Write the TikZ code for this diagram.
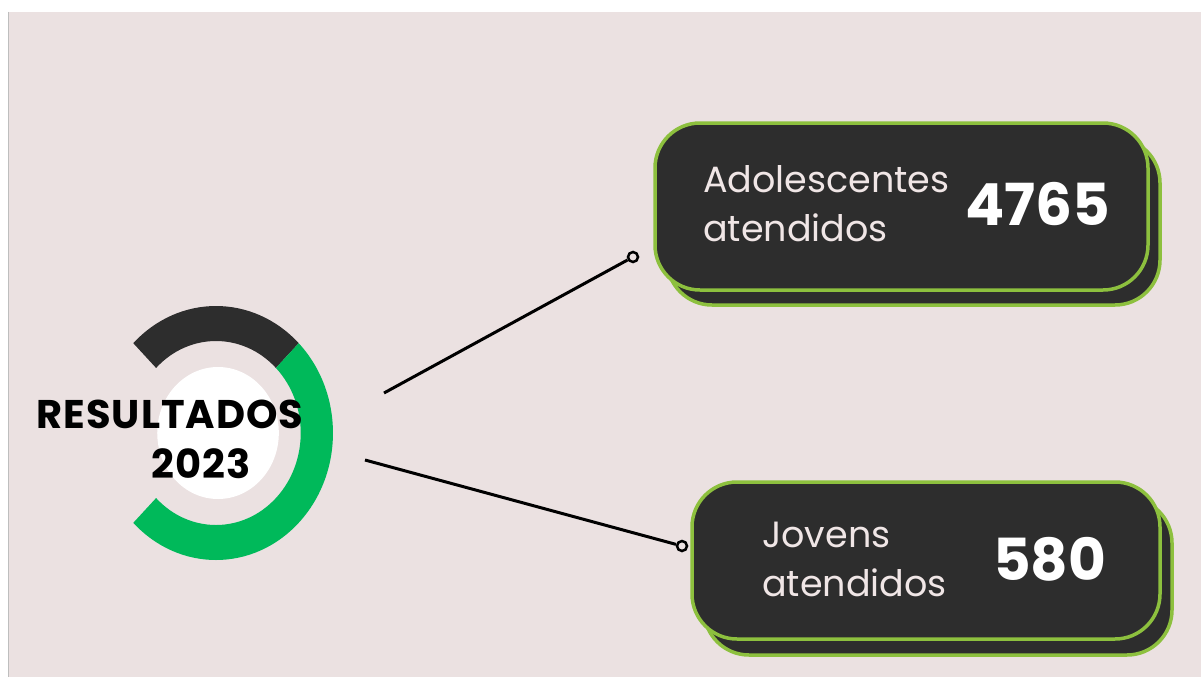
\documentclass[tikz,border=0pt]{standalone}
\usepackage{fontspec}
\setmainfont{Poppins}
\definecolor{bg}{RGB}{235,225,225}
\definecolor{darkfill}{RGB}{45,45,45}
\definecolor{ringgreen}{RGB}{0,185,90}
\definecolor{boxgreen}{RGB}{141,192,62}
\definecolor{lighttext}{RGB}{240,230,230}
\definecolor{edgegray}{RGB}{190,190,190}
\begin{document}
\begin{tikzpicture}[x=1pt,y=-1pt,
  card/.style={draw=boxgreen, fill=darkfill, line width=3.5pt, rounded corners=45pt, inner sep=0pt},
  lbl/.style={anchor=base west, inner sep=0pt, text=lighttext, font=\fontsize{36.5}{44}\selectfont},
  num/.style={anchor=base west, inner sep=0pt, text=white, font=\fontsize{58}{64}\selectfont\bfseries},
  title/.style={anchor=base, inner sep=0pt, text=black, font=\fontsize{40}{48}\selectfont\bfseries\addfontfeatures{LetterSpace=2.5}},
  link/.style={line width=3pt, black},
  dot/.style={circle, draw=black, fill=bg, line width=2.5pt, inner sep=0pt, minimum size=10pt}]
\useasboundingbox (0,0) rectangle (1201,677);
\fill[white] (0,0) rectangle (1201,677);
\fill[bg] (8,12) rectangle (1201,677);
\draw[edgegray, line width=1.2pt] (8.5,12) -- (8.5,677);
% ring (slightly squeezed horizontally, as in the reference)
\begin{scope}[shift={(216,433)}, xscale=0.921]
\fill[darkfill] (-45:127) arc[start angle=-45, end angle=-135, radius=127]
  -- (-135:92) arc[start angle=-135, end angle=-45, radius=92] -- cycle;
\fill[ringgreen] (-45:127) arc[start angle=-45, end angle=135, radius=127]
  -- (135:92) arc[start angle=135, end angle=-45, radius=92] -- cycle;
\fill[white] (2.2,0) circle[radius=66];
\end{scope}
\node[title] (t1) at (170,428) {RESULTADOS};
\node[title] (t2) at (201,478) {2023};
% cards
\node[card, minimum width=493pt, minimum height=167pt] (b1back) at (913.5,221.5) {};
\node[card, minimum width=493pt, minimum height=167pt] (b1) at (901.5,206.5) {};
\node[card, minimum width=468pt, minimum height=157pt] (b2back) at (938,576.5) {};
\node[card, minimum width=468pt, minimum height=157pt] (b2) at (926,560.5) {};
\node[lbl] (l1a) at (703,192) {Adolescentes};
\node[lbl] (l1b) at (703,241) {atendidos};
\node[num] (n1) at (965,225) {4765};
\node[lbl] (l2a) at (762,547) {Jovens};
\node[lbl] (l2b) at (762,596) {atendidos};
\node[num] (n2) at (993,580) {580};
% connectors
\coordinate (s1) at (384,393);
\coordinate (s2) at (365,460);
\node[dot] (d1) at (633,257) {};
\node[dot] (d2) at (682,546) {};
\draw[link] (s1) -- (d1);
\draw[link] (s2) -- (d2);
\end{tikzpicture}
\end{document}
